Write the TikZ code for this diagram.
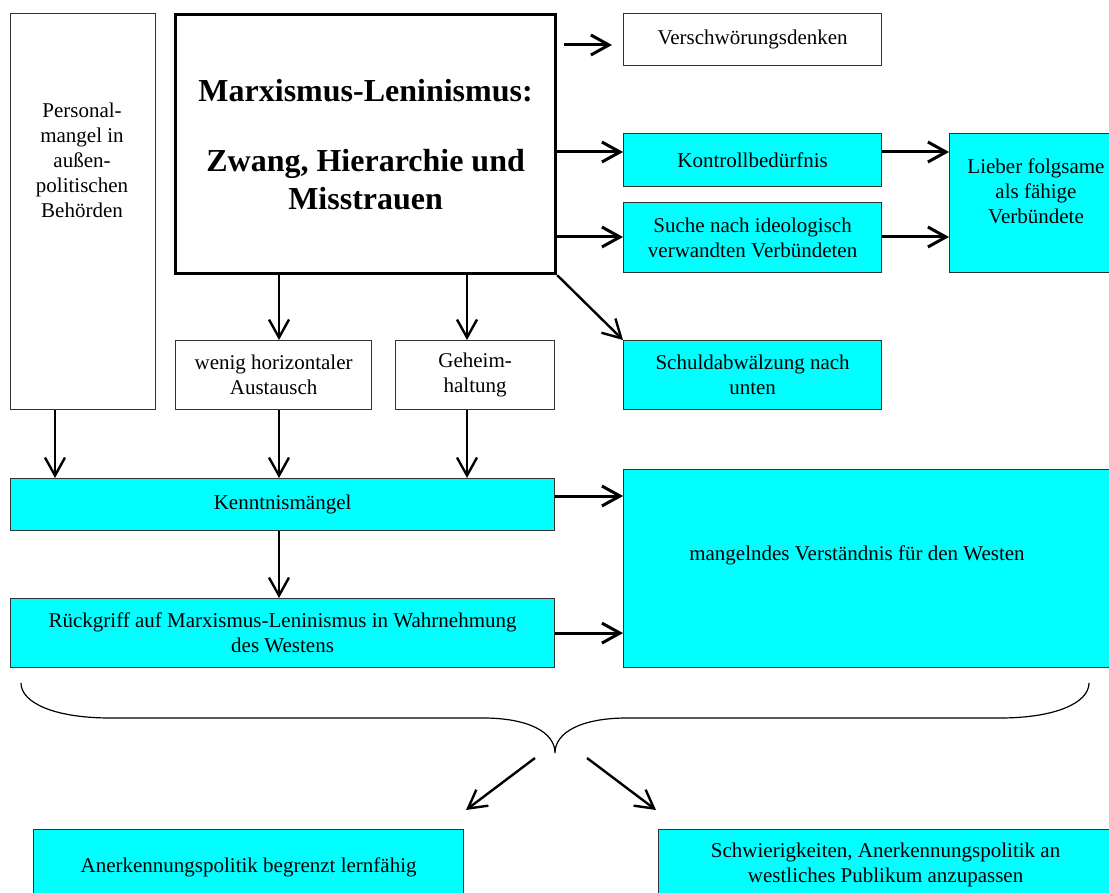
\documentclass[tikz,border=0pt]{standalone}
\usepackage{fontspec}
\setmainfont{Liberation Serif}
\usepackage{tikz}
\usetikzlibrary{positioning, arrows.meta}
\definecolor{boxCol}{RGB}{0,255,255}
\definecolor{edgeCol}{RGB}{50,50,50}
\tikzset{myBox/.style={draw=edgeCol, line width=0.6pt, inner sep=0pt, anchor=north west, align=center, font=\fontsize{10.5}{12.5}\selectfont}}
\tikzset{myCyanBox/.style={myBox, fill=boxCol}}
\tikzset{myMainBox/.style={myBox, draw=black, line width=1.6pt, font=\fontsize{16}{19}\selectfont\bfseries}}
\tikzset{myText/.style={align=center, inner sep=0pt, font=\fontsize{10.5}{12.5}\selectfont}}
\tikzset{myArrow/.style={line width=1.2pt, -{Straight Barb[length=9pt,width=10pt]}}}
\tikzset{myThickArrow/.style={myArrow, line width=1.5pt}}
\tikzset{myBrace/.style={line width=0.6pt, color=black}}

\begin{document}
\begin{tikzpicture}[x=0.5pt, y=-0.5pt]
	\useasboundingbox (0,0) rectangle (1109,893);
	\clip (0,0) rectangle (1109,893);

	\node[myBox, minimum width=72.5pt, minimum height=198pt] (pers) at (10,13) {};
	\node[myText] (persText) at (82,160) {Personal-\\mangel in\\außen-\\politischen\\Behörden};
	\node[myMainBox, minimum width=190pt, minimum height=129.5pt] (main) at (174,13)
		{Marxismus-Leninismus:\\[16pt]Zwang, Hierarchie und\\Misstrauen};
	\node[myBox, minimum width=129pt, minimum height=26pt] (versch) at (623,13) {Verschwörungsdenken};
	\node[myCyanBox, minimum width=129pt, minimum height=26.5pt] (kontr) at (623,133) {Kontrollbedürfnis};
	\node[myCyanBox, minimum width=129pt, minimum height=35pt] (suche) at (623,202) {Suche nach ideologisch\\verwandten Verbündeten};
	\node[myCyanBox, minimum width=88pt, minimum height=69.5pt] (lieber) at (949,133) {};
	\node[myText] (lieberText) at (1036,191) {Lieber folgsame\\als fähige\\Verbündete};
	\node[myBox, minimum width=98pt, minimum height=34.5pt] (wenig) at (175,340) {wenig horizontaler\\Austausch};
	\node[myBox, minimum width=79.5pt, minimum height=34.5pt] (geheim) at (395,340) {Geheim-\\haltung};
	\node[myCyanBox, minimum width=129pt, minimum height=34.5pt] (schuld) at (623,340) {Schuldabwälzung nach\\unten};
	\node[myCyanBox, minimum width=272pt, minimum height=26pt] (kennt) at (10,478) {Kenntnismängel};
	\node[myCyanBox, minimum width=272pt, minimum height=34.5pt] (rueck) at (10,598)
		{Rückgriff auf Marxismus-Leninismus in Wahrnehmung\\des Westens};
	\node[myCyanBox, minimum width=250pt, minimum height=99pt] (mangel) at (623,469) {};
	\node[myText] (mangelText) at (857,555) {mangelndes Verständnis für den Westen};
	\node[myCyanBox, minimum width=215pt, minimum height=38pt] (aner) at (33,829) {Anerkennungspolitik begrenzt lernfähig};
	\node[myCyanBox, minimum width=227pt, minimum height=35.5pt] (schw) at (658,829)
		{Schwierigkeiten, Anerkennungspolitik an\\westliches Publikum anzupassen};

	\coordinate (colA) at (55,0);
	\coordinate (colB) at (279,0);
	\coordinate (colC) at (467,0);
	\coordinate (rowA) at (0,45);
	\coordinate (rowB) at (0,152);
	\coordinate (rowC) at (0,237);
	\coordinate (rowD) at (0,496);

	\draw[myArrow] (main.south -| colB) -- (wenig.north -| colB);
	\draw[myArrow] (main.south -| colC) -- (geheim.north -| colC);
	\draw[myArrow] (main.south east) -- (schuld.north west);
	\foreach \n/\c in {pers/colA, wenig/colB, geheim/colC}{
		\draw[myArrow] (\n.south -| \c) -- (kennt.north -| \c);
	}
	\draw[myArrow] (kennt.south -| colB) -- (rueck.north -| colB);

	\draw[myThickArrow] ([xshift=3.5pt]main.east |- rowA) -- ([xshift=-5.5pt]versch.west |- rowA);
	\foreach \a/\b/\r in {main/kontr/rowB, main/suche/rowC, kontr/lieber/rowB, suche/lieber/rowC, kennt/mangel/rowD}{
		\draw[myThickArrow] (\a.east |- \r) -- (\b.west |- \r);
	}
	\draw[myThickArrow] (rueck.east) -- (rueck.east -| mangel.west);

	\coordinate (tip) at (555,753);
	\draw[myBrace] (21,683) .. controls (21,703) and (55,718) .. (110,718) -- (483,718)
		.. controls (528,718) and (555,732) .. (tip)
		.. controls (555,732) and (582,718) .. (627,718) -- (1000,718)
		.. controls (1055,718) and (1089,703) .. (1089,683);

	\coordinate (leftFrom) at (535,758);
	\coordinate (leftTo) at (466,810);
	\coordinate (rightFrom) at (587,758);
	\coordinate (rightTo) at (656,810);
	\draw[myArrow] (leftFrom) -- (leftTo);
	\draw[myArrow] (rightFrom) -- (rightTo);
\end{tikzpicture}
\end{document}
